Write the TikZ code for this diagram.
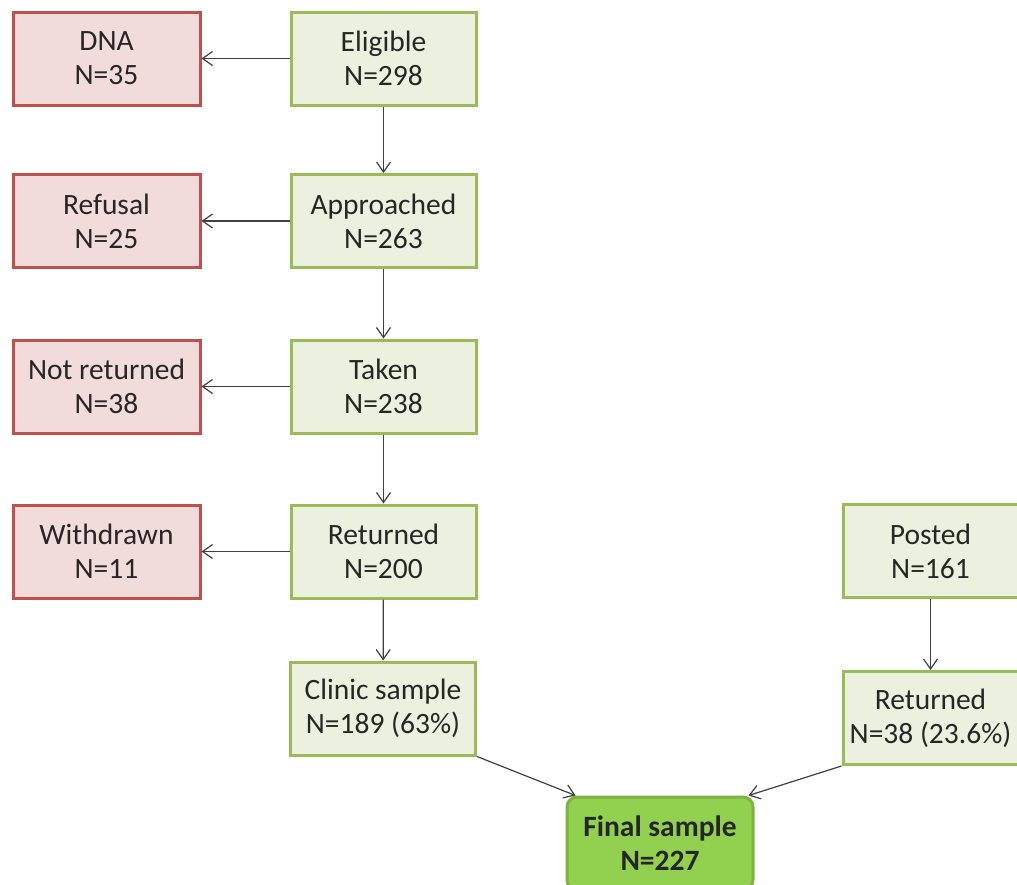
\documentclass[tikz,border=0pt]{standalone}
\usepackage{fontspec}
\setmainfont{Carlito}
\usetikzlibrary{arrows.meta}
\definecolor{okborder}{HTML}{9BBB59}
\definecolor{okfill}{HTML}{EBF1DE}
\definecolor{exborder}{HTML}{C0504D}
\definecolor{exfill}{HTML}{F2DCDB}
\definecolor{finfill}{HTML}{92D050}
\definecolor{finborder}{HTML}{7FB23F}
\definecolor{linkcol}{HTML}{404040}
\tikzset{
  x=1pt, y=-1pt,
  box/.style={draw, line width=3pt, minimum height=93pt, inner sep=0pt,
    align=center, font=\fontsize{29.5}{34}\selectfont, text=black!85},
  keepbox/.style={box, draw=okborder, fill=okfill, minimum width=185pt},
  dropbox/.style={box, draw=exborder, fill=exfill, minimum width=187pt},
  finalbox/.style={box, draw=finborder, fill=finfill, minimum width=186pt,
    rounded corners=10pt, font=\fontsize{29.5}{34}\selectfont\bfseries},
  link/.style={draw=linkcol, line width=1.2pt,
    -{Straight Barb[length=10pt,width=14pt,line width=1.2pt]}},
}
\begin{document}
\begin{tikzpicture}
\useasboundingbox (0,0) rectangle (1017,884);
\clip (0,0) rectangle (1017,884);
\fill[white] (0,0) rectangle (1017,884);

% main stream
\node[keepbox] (elig) at (383.5,58.5) {Eligible\\N=298};
\node[keepbox] (appr) at (383.5,221) {Approached\\N=263};
\node[keepbox] (taken) at (383.5,386.5) {Taken\\N=238};
\node[keepbox] (ret) at (383.5,551.5) {Returned\\N=200};
\node[keepbox] (clinic) at (383,708.5) {Clinic sample\\N=189 (63\%)};

% exclusions
\node[dropbox] (dna) at (106.5,58.5) {DNA\\N=35};
\node[dropbox] (refuse) at (106.5,221) {Refusal\\N=25};
\node[dropbox] (notret) at (106.5,386.5) {Not returned\\N=38};
\node[dropbox] (withdr) at (106.5,551.5) {Withdrawn\\N=11};

% postal stream
\node[keepbox, minimum width=175pt] (posted) at (930.5,551) {Posted\\N=161};
\node[keepbox, minimum width=175pt] (pret) at (930.5,718) {Returned\\N=38 (23.6\%)};

% combined
\node[finalbox] (final) at (660,843.5) {Final sample\\N=227};

% connectors
\draw[link] (elig) -- (dna);
\draw[link] (appr) -- (refuse);
\draw[link] (taken) -- (notret);
\draw[link] (ret) -- (withdr);
\draw[link] (elig) -- (appr);
\draw[link] (appr) -- (taken);
\draw[link] (taken) -- (ret);
\draw[link] (ret) -- (clinic);
\draw[link] (posted) -- (pret);
\draw[link] (clinic.south east) -- ([xshift=10pt]final.north west);
\draw[link] (pret.south west) -- ([xshift=-6pt]final.north east);
\end{tikzpicture}
\end{document}
